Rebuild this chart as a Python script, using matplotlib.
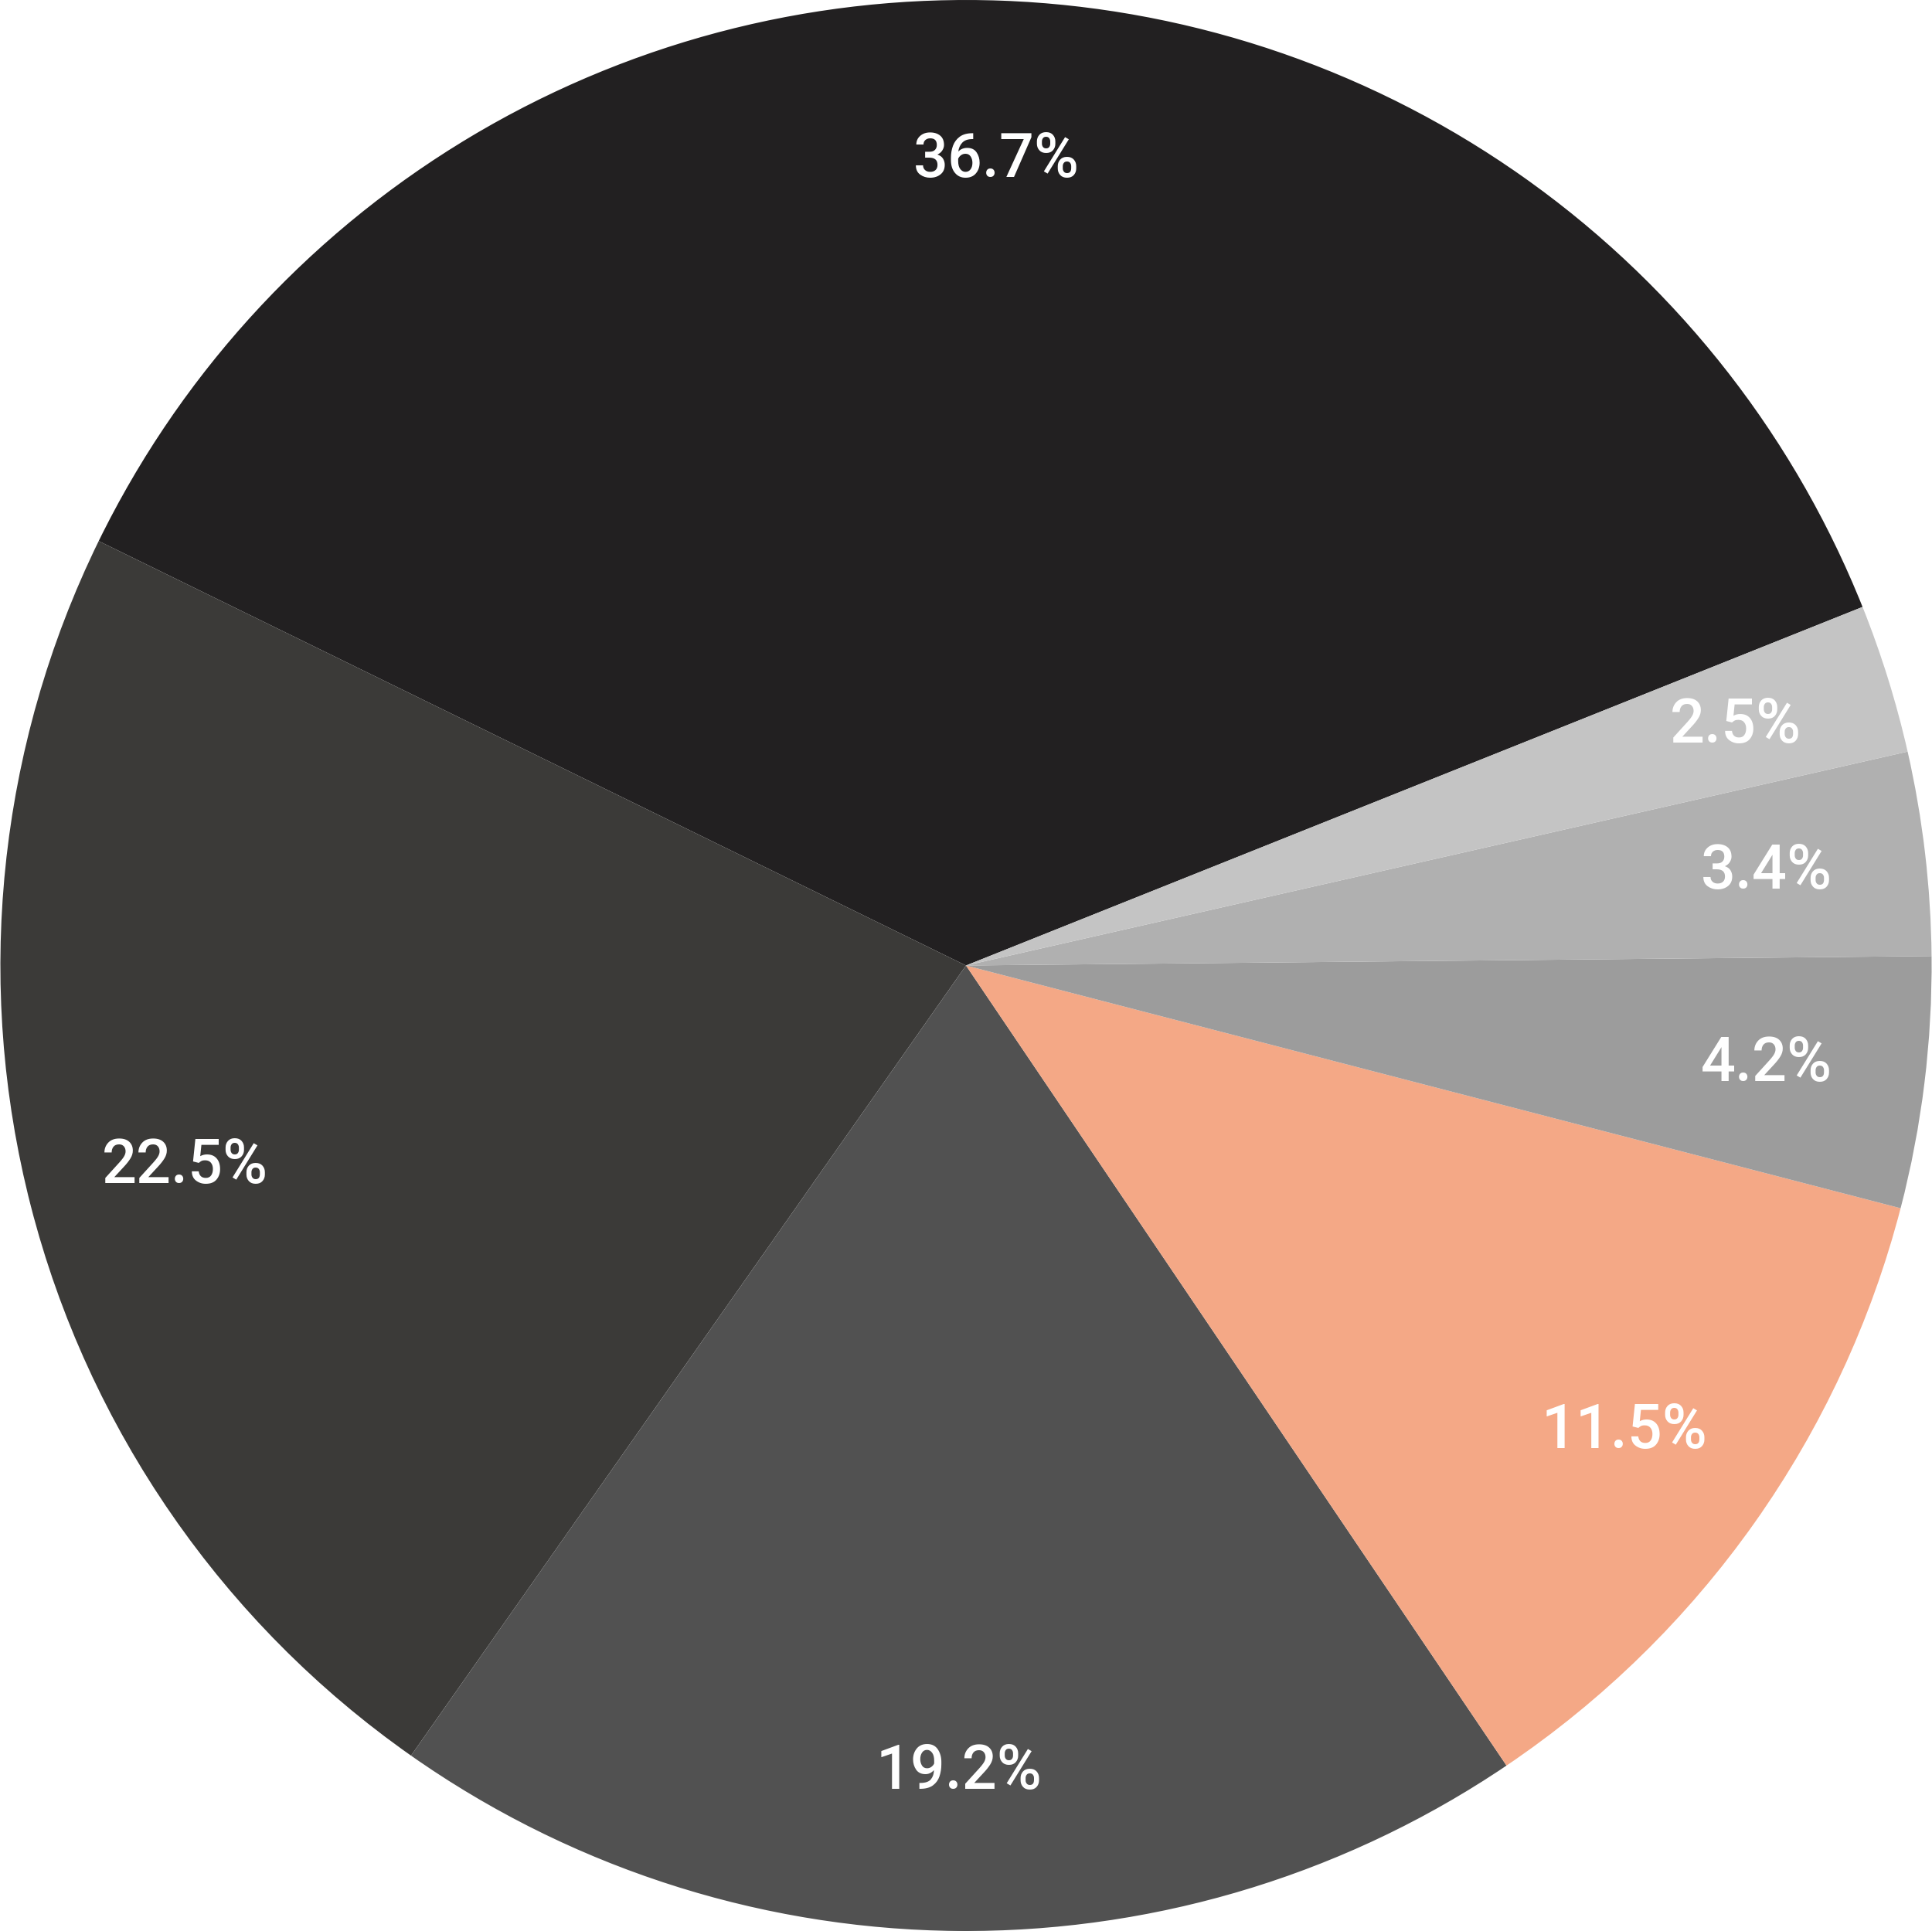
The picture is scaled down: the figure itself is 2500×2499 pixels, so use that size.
import matplotlib
matplotlib.use("Agg")
import numpy as np
from matplotlib import pyplot as plt

shares = [36.7, 22.5, 19.2, 11.5, 4.2, 3.4, 2.5]
labels = ["36.7%", "22.5%", "19.2%", "11.5%", "4.2%", "3.4%", "2.5%"]
colors = ["#222021", "#3b3a38", "#515151", "#f4a886", "#9c9c9c", "#b0b0b0", "#c4c4c4"]

fig = plt.figure(figsize=(25, 24.99), dpi=100)
ax = fig.add_axes([0, 0, 1, 1])

wedges, texts = ax.pie(shares, colors=colors, startangle=21.8, counterclock=True,
                       radius=1.0, wedgeprops={"linewidth": 0})

# percentage labels inside each slice
for w, lab in zip(wedges, labels):
    ang = np.deg2rad((w.theta1 + w.theta2) / 2)
    ax.text(0.835 * np.cos(ang), 0.835 * np.sin(ang), lab, color="white",
            ha="center", va="center", fontsize=57, fontweight="medium",
            family=["Roboto", "DejaVu Sans"])

ax.set_xlim(-1.0, 1.0)
ax.set_ylim(-1.0, 1.0)
ax.set_aspect("equal")
ax.axis("off")

fig.savefig("out.png", dpi=100, facecolor="white")
